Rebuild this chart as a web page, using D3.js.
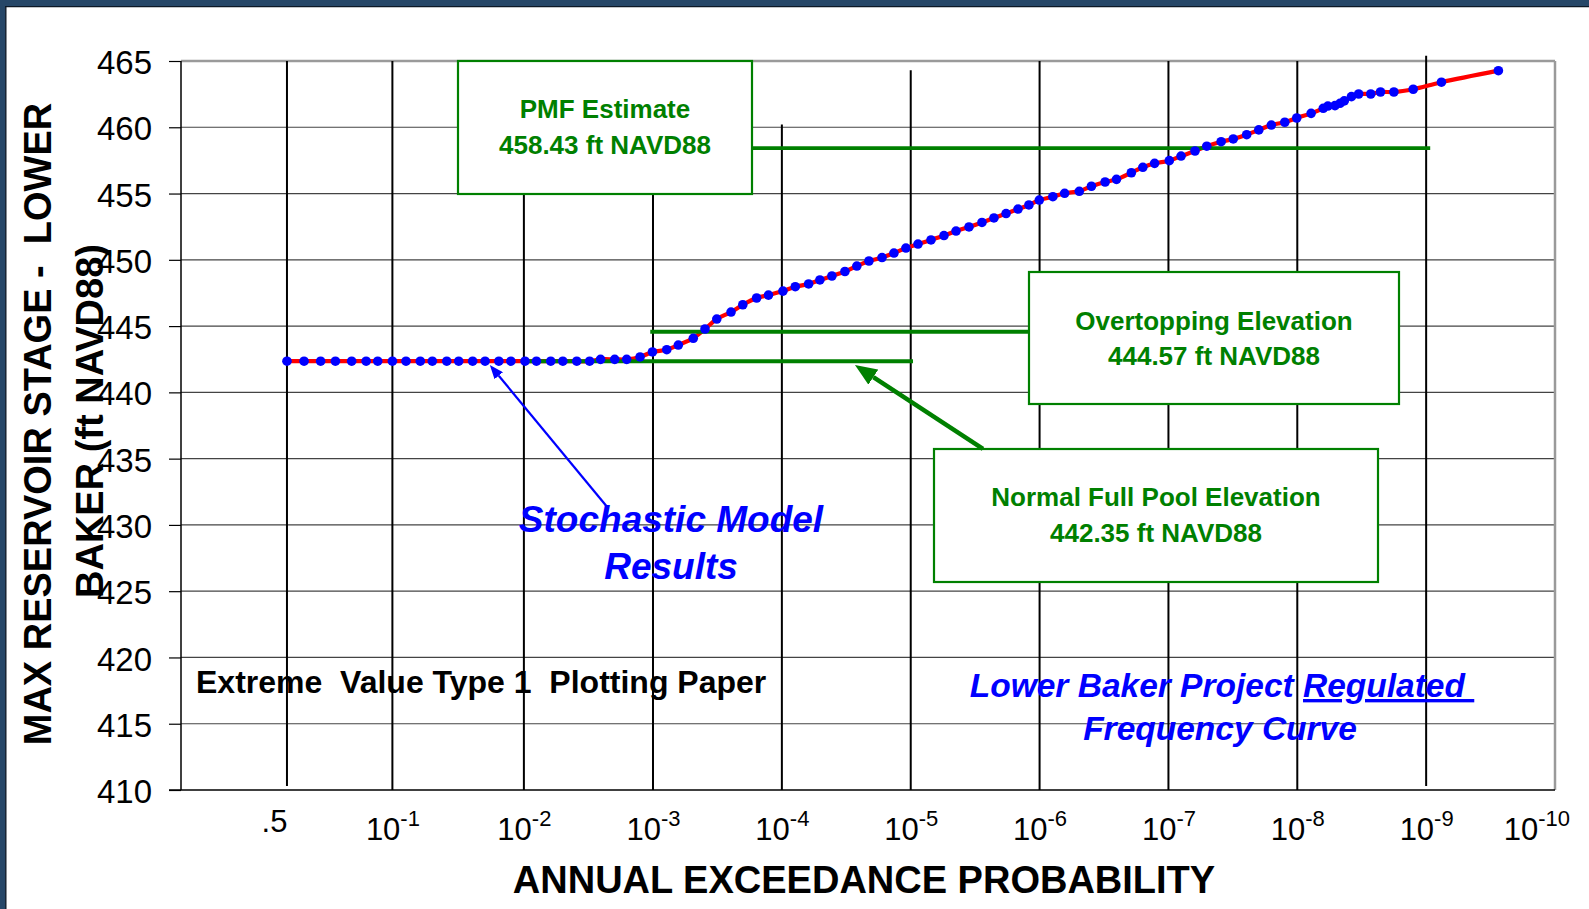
<!DOCTYPE html>
<html>
<head>
<meta charset="utf-8">
<script src="https://cdn.jsdelivr.net/npm/d3@7"></script>
<style>
  html, body { margin: 0; padding: 0; background: #fff; }
  svg { display: block; font-family: "Liberation Sans", Arial, Helvetica, sans-serif; }
</style>
</head>
<body>
<svg id="chart" width="1589" height="909"></svg>
<script>
// ---- Stochastic model results: annual exceedance probability vs. max reservoir stage ----
const exceedance = [
  0.50, 0.40, 0.316, 0.253, 0.196, 0.155, 0.128, 0.100, 0.0793, 0.0620,
  0.0503, 0.0391, 0.0317, 0.0248, 0.0199, 0.0156, 0.0126, 0.0098, 0.0080, 0.0062,
  0.0050, 0.0039, 0.0031, 0.00255, 0.00198, 0.00160, 0.00126, 0.00101, 7.82e-4, 6.36e-4,
  4.87e-4, 3.95e-4, 3.20e-4, 2.48e-4, 2.01e-4, 1.57e-4, 1.27e-4, 9.81e-5, 7.87e-5, 6.20e-5,
  5.07e-5, 4.09e-5, 3.24e-5, 2.62e-5, 2.11e-5, 1.67e-5, 1.35e-5, 1.09e-5, 8.78e-6, 6.96e-6,
  5.52e-6, 4.45e-6, 3.53e-6, 2.80e-6, 2.26e-6, 1.82e-6, 1.47e-6, 1.21e-6, 1.005e-6, 7.89e-7,
  6.39e-7, 4.92e-7, 3.96e-7, 3.10e-7, 2.53e-7, 1.94e-7, 1.58e-7, 1.28e-7, 9.85e-8, 7.98e-8,
  6.22e-8, 5.04e-8, 3.90e-8, 3.14e-8, 2.47e-8, 1.99e-8, 1.59e-8, 1.25e-8, 1.01e-8, 7.81e-9,
  6.29e-9, 5.79e-9, 5.10e-9, 4.66e-9, 4.32e-9, 3.80e-9, 3.34e-9, 2.69e-9, 2.26e-9, 1.78e-9,
  1.26e-9, 7.61e-10, 2.75e-10
];
const maxStage = [
  442.35, 442.35, 442.35, 442.35, 442.35, 442.35, 442.35, 442.35, 442.35, 442.35,
  442.35, 442.35, 442.35, 442.35, 442.35, 442.35, 442.35, 442.35, 442.35, 442.35,
  442.35, 442.35, 442.35, 442.49, 442.49, 442.49, 442.67, 443.05, 443.22, 443.57,
  444.08, 444.78, 445.53, 446.06, 446.61, 447.12, 447.34, 447.64, 447.97, 448.18,
  448.48, 448.78, 449.12, 449.53, 449.91, 450.17, 450.51, 450.89, 451.19, 451.50,
  451.83, 452.17, 452.48, 452.82, 453.16, 453.49, 453.83, 454.14, 454.51, 454.76,
  455.02, 455.17, 455.55, 455.87, 456.07, 456.57, 456.98, 457.28, 457.48, 457.83,
  458.21, 458.57, 458.91, 459.12, 459.44, 459.80, 460.17, 460.38, 460.70, 461.05,
  461.43, 461.60, 461.63, 461.81, 461.99, 462.31, 462.51, 462.51, 462.66, 462.66,
  462.87, 463.40, 464.27
];

// ---- Axis ticks ----
const probTicks   = [0.5, 1e-1, 1e-2, 1e-3, 1e-4, 1e-5, 1e-6, 1e-7, 1e-8, 1e-9, 1e-10];
const probBase    = [".5", "10", "10", "10", "10", "10", "10", "10", "10", "10", "10"];
const probExp     = ["", "-1", "-2", "-3", "-4", "-5", "-6", "-7", "-8", "-9", "-10"];
const stageTicks  = [410, 415, 420, 425, 430, 435, 440, 445, 450, 455, 460, 465];

// ---- Reference elevations (ft NAVD88) ----
const refNames  = ["PMF Estimate", "Overtopping Elevation", "Normal Full Pool Elevation"];
const refStages = [458.43, 444.57, 442.35];
const refFrom   = [1.7e-4, 1.05e-3, 0.0099];   // exceedance where each line starts
const refTo     = [9.3e-10, 1.21e-6, 9.6e-6];  // exceedance where each line ends

// stage extent of each probability rule (the hand-drawn rules do not all span the grid)
const ruleSpan = [[410.3, 465], [410, 465], [410, 465], [410, 465], [410, 460.2],
                  [410, 464.3], [410, 465], [410, 465], [410, 465], [410.3, 465.4]];

// ---- Scales: Extreme Value Type 1 (Gumbel) probability paper ----
const W = 1589, H = 909;
const gumbel = p => -Math.log(-Math.log1p(-p));
const x = d3.scaleLinear().domain([gumbel(0.99), gumbel(1e-10)]).range([181, 1555]);
const y = d3.scaleLinear().domain([410, 465]).range([790, 61]);
const px = p => x(gumbel(p));

const svg = d3.select("#chart");
const GREEN = "#008000", BLUE = "#0000ff", RED = "#ff0000";

// page background and slide frame
svg.append("rect").attr("width", W).attr("height", H).attr("fill", "#fff");
svg.append("rect").attr("x", 0).attr("y", 0).attr("width", W).attr("height", 6.5).attr("fill", "#264768");
svg.append("rect").attr("x", 0).attr("y", 0).attr("width", 5.5).attr("height", H).attr("fill", "#264768");
svg.append("line").attr("x1", 5).attr("x2", W).attr("y1", 6.6).attr("y2", 6.6).attr("stroke", "#0c1826").attr("stroke-width", 1.4);
svg.append("line").attr("x1", 5.8).attr("x2", 5.8).attr("y1", 6).attr("y2", H).attr("stroke", "#0c1826").attr("stroke-width", 1.4);

const [x0, x1] = x.range();
const [yb, yt] = y.range();

// horizontal stage grid
const grid = svg.append("g");
grid.selectAll("line.h").data(stageTicks.filter(v => v > 410 && v < 465)).join("line")
  .attr("x1", x0).attr("x2", x1)
  .attr("y1", d => y(d)).attr("y2", d => y(d))
  .attr("stroke", "#444").attr("stroke-width", 1.2);
// top and right frame of plot area
grid.append("line").attr("x1", x0).attr("x2", x1).attr("y1", yt).attr("y2", yt)
  .attr("stroke", "#9a9a9a").attr("stroke-width", 2.5);
grid.append("line").attr("x1", x1).attr("x2", x1).attr("y1", yt).attr("y2", yb)
  .attr("stroke", "#9a9a9a").attr("stroke-width", 2.5);

// y axis with outside ticks
const yAxis = svg.append("g").attr("transform", `translate(${x0},0)`)
  .call(d3.axisLeft(y).tickValues(stageTicks).tickSize(12).tickPadding(17).tickFormat(d3.format("d")));
yAxis.select(".domain").remove();
yAxis.selectAll(".tick line").attr("stroke", "#000").attr("stroke-width", 1.2);
yAxis.selectAll(".tick text")
  .attr("font-size", 33).attr("fill", "#000").attr("dy", "0.38em")
  .attr("font-family", "'Liberation Sans', Arial, sans-serif");

// vertical probability rules
grid.selectAll("line.v").data(probTicks.slice(0, -1)).join("line")
  .attr("x1", d => px(d)).attr("x2", d => px(d))
  .attr("y1", (d, i) => y(ruleSpan[i][1])).attr("y2", (d, i) => y(ruleSpan[i][0]))
  .attr("stroke", "#000").attr("stroke-width", 2);

// left and bottom axis lines
svg.append("line").attr("x1", x0).attr("x2", x0).attr("y1", yt).attr("y2", yb)
  .attr("stroke", "#000").attr("stroke-width", 1.5);
svg.append("line").attr("x1", x0 - 12).attr("x2", x1).attr("y1", yb).attr("y2", yb)
  .attr("stroke", "#000").attr("stroke-width", 1.5);

// x tick labels (powers of ten with superscript exponents)
const xAxis = svg.append("g").attr("transform", `translate(0,${yb})`)
  .call(d3.axisBottom(x).tickValues(probTicks.map(gumbel)).tickSize(0).tickFormat(""));
xAxis.select(".domain").remove();
xAxis.selectAll(".tick text").each(function (d, i) {
  const t = d3.select(this)
    .attr("y", probExp[i] ? 50 : 42).attr("dy", 0)
    .attr("font-size", 31).attr("fill", "#000")
    .attr("text-anchor", probExp[i] ? "middle" : "end")
    .attr("font-family", "'Liberation Sans', Arial, sans-serif");
  t.append("tspan").text(probBase[i]);
  if (probExp[i]) t.append("tspan").attr("font-size", 22).attr("dy", -14).text(probExp[i]);
  // keep the last label inside the page
  const bb = this.getBBox();
  const tx = +d3.select(this.parentNode).attr("transform").match(/translate\(([-\d.]+)/)[1];
  const over = tx + bb.x + bb.width - (W - 19);
  if (over > 0) t.attr("x", -over);
});

// axis titles
svg.append("text").attr("x", 864).attr("y", 893).attr("text-anchor", "middle")
  .attr("font-size", 38).attr("font-weight", "bold").attr("fill", "#000")
  .text("ANNUAL EXCEEDANCE PROBABILITY");
const yTitle = svg.append("g");
yTitle.append("text").attr("transform", "translate(51,424) rotate(-90)")
  .attr("text-anchor", "middle").attr("font-size", 38).attr("font-weight", "bold").attr("fill", "#000")
  .style("white-space", "pre").text("MAX RESERVOIR STAGE -  LOWER");
yTitle.append("text").attr("transform", "translate(103,421) rotate(-90)")
  .attr("text-anchor", "middle").attr("font-size", 38).attr("font-weight", "bold").attr("fill", "#000")
  .text("BAKER (ft NAVD88)");

// frequency curve
const points = exceedance.map((p, i) => ({ p, v: maxStage[i] }));
svg.append("path").datum(points)
  .attr("fill", "none").attr("stroke", RED).attr("stroke-width", 4.2)
  .attr("stroke-linejoin", "round")
  .attr("d", d3.line().x(d => px(d.p)).y(d => y(d.v)).curve(d3.curveCatmullRom.alpha(0.5)));

// reference elevation lines
svg.append("g").selectAll("line").data(refStages).join("line")
  .attr("x1", (d, i) => px(refFrom[i])).attr("x2", (d, i) => px(refTo[i]))
  .attr("y1", d => y(d)).attr("y2", d => y(d))
  .attr("stroke", GREEN).attr("stroke-width", (d, i) => i === 0 ? 3.6 : 4);

// plotted model results
svg.append("g").selectAll("circle").data(points).join("circle")
  .attr("cx", d => px(d.p)).attr("cy", d => y(d.v)).attr("r", 4.8).attr("fill", BLUE);

// callout boxes for the reference elevations
const boxes = [
  { x: 458,  y: 61,  w: 294, h: 133, cx: 605,  b1: 118, b2: 154 },
  { x: 1029, y: 272, w: 370, h: 132, cx: 1214, b1: 330, b2: 365 },
  { x: 934,  y: 449, w: 444, h: 133, cx: 1156, b1: 506, b2: 542 }
];
boxes.forEach((b, i) => {
  const g = svg.append("g");
  g.append("rect").attr("x", b.x).attr("y", b.y).attr("width", b.w).attr("height", b.h)
    .attr("fill", "#fff").attr("stroke", GREEN).attr("stroke-width", 2.2);
  g.append("text").attr("x", b.cx).attr("y", b.b1).attr("text-anchor", "middle")
    .attr("font-size", 26).attr("font-weight", "bold").attr("fill", GREEN).text(refNames[i]);
  g.append("text").attr("x", b.cx).attr("y", b.b2).attr("text-anchor", "middle")
    .attr("font-size", 26).attr("font-weight", "bold").attr("fill", GREEN)
    .text(`${refStages[i].toFixed(2)} ft NAVD88`);
});

// leader arrows
const defs = svg.append("defs");
function arrowHead(id, color, len, half) {
  defs.append("marker").attr("id", id)
    .attr("viewBox", `0 0 ${len} ${half * 2}`).attr("refX", 0).attr("refY", half)
    .attr("markerWidth", len).attr("markerHeight", half * 2)
    .attr("markerUnits", "userSpaceOnUse").attr("orient", "auto")
    .append("path").attr("d", `M0,0 L${len},${half} L0,${half * 2} Z`).attr("fill", color);
}
arrowHead("headGreen", GREEN, 22, 9);
arrowHead("headBlue", BLUE, 14, 5.5);
function leader(from, to, color, width, marker, headLen) {
  const xa = px(from.p), ya = y(from.v), xb = px(to.p), yb2 = y(to.v);
  const L = Math.hypot(xb - xa, yb2 - ya);
  const k = (L - headLen) / L;
  svg.append("line")
    .attr("x1", xa).attr("y1", ya)
    .attr("x2", xa + (xb - xa) * k).attr("y2", ya + (yb2 - ya) * k)
    .attr("stroke", color).attr("stroke-width", width)
    .attr("marker-end", `url(#${marker})`);
}
leader({ p: 2.75e-6, v: 435.73 }, { p: 2.71e-5, v: 442.06 }, GREEN, 4.5, "headGreen", 22);
leader({ p: 0.00224, v: 431.3 }, { p: 0.0183, v: 442.07 }, BLUE, 2.2, "headBlue", 14);

// annotation text
svg.append("text").attr("x", 671).attr("y", 532).attr("text-anchor", "middle")
  .attr("font-size", 37).attr("font-weight", "bold").attr("font-style", "italic").attr("fill", BLUE)
  .text("Stochastic Model");
svg.append("text").attr("x", 671).attr("y", 579).attr("text-anchor", "middle")
  .attr("font-size", 37).attr("font-weight", "bold").attr("font-style", "italic").attr("fill", BLUE)
  .text("Results");
svg.append("text").attr("x", 196).attr("y", 693)
  .attr("font-size", 32).attr("font-weight", "bold").attr("fill", "#000")
  .style("white-space", "pre").text("Extreme  Value Type 1  Plotting Paper");
const lb = svg.append("text").attr("x", 1222).attr("y", 697).attr("text-anchor", "middle")
  .attr("font-size", 33.5).attr("font-weight", "bold").attr("font-style", "italic").attr("fill", BLUE)
  .style("white-space", "pre");
lb.append("tspan").text("Lower Baker Project ");
lb.append("tspan").style("text-decoration", "underline").text("Regulated ");
svg.append("text").attr("x", 1220).attr("y", 740).attr("text-anchor", "middle")
  .attr("font-size", 33.5).attr("font-weight", "bold").attr("font-style", "italic").attr("fill", BLUE)
  .text("Frequency Curve");
</script>
</body>
</html>
